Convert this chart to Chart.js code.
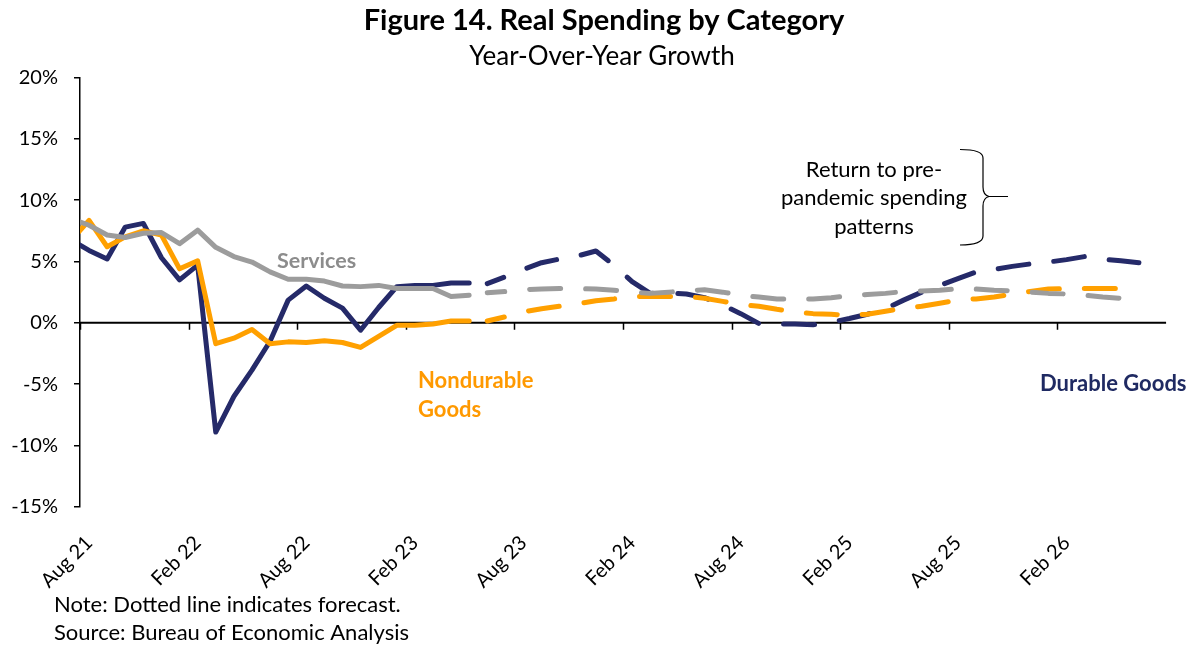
<!DOCTYPE html>
<html>
<head>
<meta charset="utf-8">
<title>Figure 14. Real Spending by Category</title>
<script src="https://cdn.jsdelivr.net/npm/chart.js@4.4.1/dist/chart.umd.min.js"></script>
<style>
  html, body { margin: 0; padding: 0; background: #fff; }
  #wrap { width: 1198px; height: 645px; }
</style>
</head>
<body>
<div id="wrap"><canvas id="spendChart" width="1198" height="645"></canvas></div>
<script>
// monthly categories; Jul 21 sits just left of the axis and is clipped away
const months = [
  'Jul 21', 'Aug 21', 'Sep 21', 'Oct 21', 'Nov 21', 'Dec 21',
  'Jan 22', 'Feb 22', 'Mar 22', 'Apr 22', 'May 22', 'Jun 22', 'Jul 22', 'Aug 22', 'Sep 22', 'Oct 22', 'Nov 22', 'Dec 22',
  'Jan 23', 'Feb 23', 'Mar 23', 'Apr 23', 'May 23', 'Jun 23', 'Jul 23', 'Aug 23', 'Sep 23', 'Oct 23', 'Nov 23', 'Dec 23',
  'Jan 24', 'Feb 24', 'Mar 24', 'Apr 24', 'May 24', 'Jun 24', 'Jul 24', 'Aug 24', 'Sep 24', 'Oct 24', 'Nov 24', 'Dec 24',
  'Jan 25', 'Feb 25', 'Mar 25', 'Apr 25', 'May 25', 'Jun 25', 'Jul 25', 'Aug 25', 'Sep 25', 'Oct 25', 'Nov 25', 'Dec 25',
  'Jan 26', 'Feb 26', 'Mar 26', 'Apr 26', 'May 26', 'Jun 26', 'Jul 26'
];

// actual data, Jul 21 - May 23
const durableActual = [6.75, 5.9, 5.2, 7.8, 8.1, 5.3, 3.5, 4.7, -8.9, -6.0, -3.85, -1.5, 1.85, 3.0, 2.0, 1.2, -0.6, 1.25, 2.95, 3.05, 3.05, 3.25, 3.25];
const nondurableActual = [6.7, 8.35, 6.2, 7.0, 7.5, 7.15, 4.4, 5.05, -1.7, -1.25, -0.55, -1.7, -1.55, -1.6, -1.45, -1.6, -2.0, -1.1, -0.2, -0.2, -0.1, 0.15, 0.15];
const servicesActual = [8.5, 7.95, 7.15, 6.95, 7.3, 7.35, 6.45, 7.55, 6.15, 5.4, 4.95, 4.15, 3.55, 3.55, 3.4, 3.0, 2.95, 3.05, 2.8, 2.8, 2.8, 2.15, 2.25];

// forecast, Jun 23 - Jun 26
const durableForecast = [3.2, 3.75, 4.35, 4.9, 5.2, 5.45, 5.85,
  4.7, 3.35, 2.4, 2.45, 2.35, 2.05, 1.45, 0.75, -0.05, -0.1, -0.1, -0.15,
  0.05, 0.35, 0.7, 1.15, 1.85, 2.5, 3.05, 3.6, 4.15, 4.35, 4.6, 4.8,
  4.95, 5.15, 5.4, 5.2, 5.05, 4.9];
const nondurableForecast = [0.15, 0.5, 0.9, 1.15, 1.35, 1.55, 1.8,
  1.95, 2.15, 2.15, 2.15, 2.15, 2.0, 1.75, 1.5, 1.35, 1.1, 0.9, 0.75,
  0.7, 0.6, 0.7, 0.95, 1.2, 1.35, 1.6, 1.85, 1.95, 2.1, 2.35, 2.55,
  2.75, 2.8, 2.8, 2.8, 2.8, 2.8];
const servicesForecast = [2.45, 2.55, 2.7, 2.75, 2.8, 2.8, 2.75,
  2.65, 2.5, 2.4, 2.5, 2.6, 2.7, 2.5, 2.25, 2.1, 1.95, 1.95, 1.95,
  2.05, 2.2, 2.3, 2.4, 2.55, 2.6, 2.65, 2.8, 2.75, 2.65, 2.6, 2.5,
  2.4, 2.35, 2.25, 2.1, 2.0, 1.9];

const yTicks = [-15, -10, -5, 0, 5, 10, 15, 20];

const NAVY = '#252a69';
const ORANGE = '#ffa000';
const GRAY = '#9c9c9c';
const FONT = 'Lato';

function actual(vals) {
  return vals.concat(new Array(months.length - vals.length).fill(null));
}
function forecast(vals) {
  const lead = new Array(durableActual.length).fill(null);
  const out = lead.concat(vals);
  return out.concat(new Array(months.length - out.length).fill(null));
}

function lineSet(label, data, color, dashed) {
  return {
    label: label,
    data: data,
    borderColor: color,
    borderWidth: 5,
    borderJoinStyle: 'round',
    borderCapStyle: 'round',
    borderDash: dashed ? [31, 25] : [],
    borderDashOffset: dashed ? 13.5 : 0,
    pointRadius: 0,
    tension: 0,
    spanGaps: false,
    clip: 0
  };
}

const extras = {
  id: 'extras',
  beforeDatasetsDraw(chart) {
    const {ctx, chartArea, scales: {x, y}} = chart;
    const y0 = y.getPixelForValue(0);
    const half = (x.getPixelForValue(2) - x.getPixelForValue(1)) / 2;
    ctx.save();
    ctx.strokeStyle = '#000';
    ctx.lineWidth = 2;
    ctx.beginPath();
    ctx.moveTo(chartArea.left, y0);
    ctx.lineTo(chartArea.right, y0);
    ctx.stroke();
    ctx.lineWidth = 1.5;
    ctx.beginPath();
    for (let i = 1; i < months.length; i += 6) {
      const px = Math.round(x.getPixelForValue(i) - half) + 0.5;
      ctx.moveTo(px, y0);
      ctx.lineTo(px, y0 + 7);
    }
    ctx.stroke();
    ctx.restore();
  },
  afterDraw(chart) {
    const ctx = chart.ctx;
    ctx.save();
    ctx.textBaseline = 'middle';

    ctx.fillStyle = '#000';
    ctx.textAlign = 'center';
    ctx.font = 'bold 29px ' + FONT;
    ctx.fillText('Figure 14. Real Spending by Category', 604, 21);
    ctx.font = '26px ' + FONT;
    ctx.fillText('Year-Over-Year Growth', 602, 57);

    ctx.font = '22px ' + FONT;
    ctx.fillText('Return to pre-', 874, 170);
    ctx.fillText('pandemic spending', 874, 198);
    ctx.fillText('patterns', 874, 227);

    ctx.textAlign = 'left';
    ctx.font = 'bold 21.5px ' + FONT;
    ctx.fillStyle = '#8c8c8c';
    ctx.fillText('Services', 277, 261);
    ctx.font = 'bold 22px ' + FONT;
    ctx.fillStyle = '#ff9900';
    ctx.fillText('Nondurable', 418, 381);
    ctx.fillText('Goods', 418, 410);
    ctx.fillStyle = '#1f2a62';
    ctx.fillText('Durable Goods', 1040, 384);

    ctx.fillStyle = '#000';
    ctx.font = '22px ' + FONT;
    ctx.fillText('Note: Dotted line indicates forecast.', 54, 605);
    ctx.fillText('Source: Bureau of Economic Analysis', 54, 633);

    // curly brace next to the annotation
    ctx.strokeStyle = '#000';
    ctx.lineWidth = 1.2;
    ctx.beginPath();
    ctx.moveTo(960, 149.5);
    ctx.quadraticCurveTo(983, 149.5, 983, 158);
    ctx.lineTo(983, 187);
    ctx.quadraticCurveTo(983, 195, 989, 196.5);
    ctx.quadraticCurveTo(983, 198, 983, 206);
    ctx.lineTo(983, 236);
    ctx.quadraticCurveTo(983, 245, 960, 245);
    ctx.moveTo(989, 196.5);
    ctx.lineTo(1008, 196.5);
    ctx.stroke();
    ctx.restore();
  }
};

new Chart(document.getElementById('spendChart'), {
  type: 'line',
  data: {
    labels: months,
    datasets: [
      lineSet('Services', actual(servicesActual), GRAY, false),
      lineSet('Services forecast', forecast(servicesForecast), GRAY, true),
      lineSet('Nondurable Goods', actual(nondurableActual), ORANGE, false),
      lineSet('Nondurable Goods forecast', forecast(nondurableForecast), ORANGE, true),
      lineSet('Durable Goods', actual(durableActual), NAVY, false),
      lineSet('Durable Goods forecast', forecast(durableForecast), NAVY, true)
    ]
  },
  options: {
    responsive: false,
    animation: false,
    layout: { padding: { top: 77.3, right: 0, bottom: 0, left: 0 } },
    plugins: {
      legend: { display: false },
      tooltip: { enabled: false }
    },
    scales: {
      x: {
        type: 'category',
        min: 1,
        max: months.length - 1,
        offset: true,
        border: { display: false },
        grid: { display: false, drawTicks: false },
        ticks: {
          autoSkip: false,
          minRotation: 45,
          maxRotation: 45,
          padding: 24,
          color: '#000',
          font: { family: FONT, size: 20 },
          callback: function (value) {
            return (value - 1) % 6 === 0 ? this.getLabelForValue(value) : '';
          }
        },
        afterFit: (s) => { s.height = 645 - 507; }
      },
      y: {
        min: -15,
        max: 20,
        border: { display: true, color: '#000', width: 1.5 },
        grid: { drawOnChartArea: false, drawTicks: true, tickLength: 6, color: '#000', lineWidth: 1.5 },
        afterBuildTicks: (s) => { s.ticks = yTicks.map(v => ({ value: v })); },
        ticks: {
          padding: 16,
          color: '#000',
          font: { family: FONT, size: 20 },
          callback: (v) => v + '%'
        },
        afterFit: (s) => { s.width = 80; }
      }
    }
  },
  plugins: [extras]
});
</script>
</body>
</html>
